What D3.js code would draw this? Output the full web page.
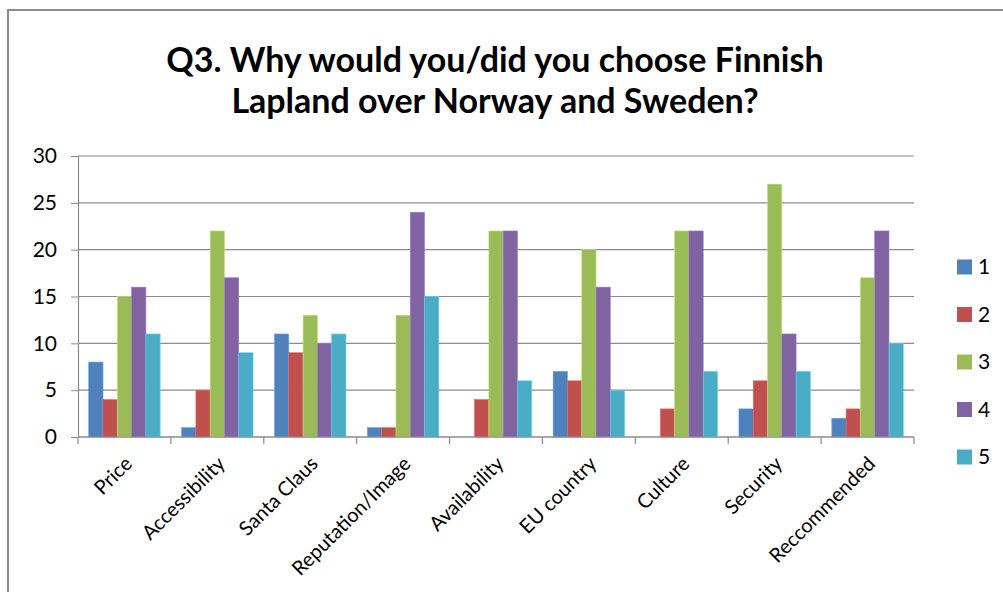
<!DOCTYPE html>
<html>
<head>
<meta charset="utf-8">
<script src="https://cdn.jsdelivr.net/npm/d3@7"></script>
<style>
  body { margin: 0; background: #fff; }
  svg { display: block; font-family: Lato, "Open Sans", sans-serif; }
</style>
</head>
<body>
<svg id="chart" width="1003" height="592"></svg>
<script>
// Data
const categories = ["Price", "Accessibility", "Santa Claus", "Reputation/Image", "Availability",
                    "EU country", "Culture", "Security", "Reccommended"];
const seriesNames = ["1", "2", "3", "4", "5"];
const s1 = [8, 1, 11, 1, 0, 7, 0, 3, 2];
const s2 = [4, 5, 9, 1, 4, 6, 3, 6, 3];
const s3 = [15, 22, 13, 13, 22, 20, 22, 27, 17];
const s4 = [16, 17, 10, 24, 22, 16, 22, 11, 22];
const s5 = [11, 9, 11, 15, 6, 5, 7, 7, 10];
const yTicks = [0, 5, 10, 15, 20, 25, 30];
const titleLines = ["Q3. Why would you/did you choose Finnish", "Lapland over Norway and Sweden?"];

const colors = ["#4F81BD", "#C0504D", "#9BBB59", "#8064A2", "#4BACC6"];
const series = [s1, s2, s3, s4, s5];

const svg = d3.select("#chart");

// outer chart frame
svg.append("rect")
  .attr("x", 8).attr("y", 10)
  .attr("width", 1010).attr("height", 600)
  .attr("fill", "none")
  .attr("stroke", "#8c8c8c")
  .attr("stroke-width", 2);

// title
svg.append("g").selectAll("text")
  .data(titleLines)
  .join("text")
  .attr("x", 495)
  .attr("y", (d, i) => 72 + i * 41)
  .attr("text-anchor", "middle")
  .attr("font-size", 34)
  .attr("font-weight", "bold")
  .attr("fill", "#000")
  .text(d => d);

const plot = { left: 78, right: 914, top: 156, bottom: 437 };

const x = d3.scaleBand()
  .domain(categories)
  .range([plot.left, plot.right]);

const inner = d3.scaleBand()
  .domain(d3.range(seriesNames.length))
  .range([0, x.bandwidth()])
  .paddingOuter(0.75); // gap width ~150%

const y = d3.scaleLinear()
  .domain([0, 30])
  .range([plot.bottom, plot.top]);

// gridlines
svg.append("g")
  .selectAll("line")
  .data(yTicks)
  .join("line")
  .attr("x1", plot.left).attr("x2", plot.right)
  .attr("y1", d => y(d)).attr("y2", d => y(d))
  .attr("stroke", "#8c8c8c")
  .attr("stroke-width", 1.2);

// y axis
const yAxis = svg.append("g")
  .attr("transform", `translate(${plot.left},0)`)
  .call(d3.axisLeft(y).tickValues(yTicks).tickSize(7).tickPadding(14));
yAxis.select(".domain").attr("stroke", "#8c8c8c").attr("stroke-width", 1.2);
yAxis.selectAll(".tick line").attr("stroke", "#8c8c8c");
yAxis.selectAll(".tick text")
  .attr("font-size", 21)
  .attr("font-family", "Lato, sans-serif")
  .attr("fill", "#000");

// bars
const groups = svg.append("g")
  .selectAll("g")
  .data(categories)
  .join("g")
  .attr("transform", d => `translate(${x(d)},0)`);

groups.selectAll("rect")
  .data((c, ci) => series.map((s, si) => ({ si, v: s[ci] })))
  .join("rect")
  .attr("x", d => inner(d.si))
  .attr("width", inner.bandwidth())
  .attr("y", d => y(d.v))
  .attr("height", d => plot.bottom - y(d.v))
  .attr("fill", d => colors[d.si])
  .attr("stroke", d => d.v > 0 ? d3.color(colors[d.si]).brighter(0.6) : "none")
  .attr("stroke-width", 0.6);

// x axis
svg.append("line")
  .attr("x1", plot.left).attr("x2", plot.right)
  .attr("y1", plot.bottom).attr("y2", plot.bottom)
  .attr("stroke", "#8c8c8c")
  .attr("stroke-width", 1.2);

const tickXs = categories.map(c => x(c)).concat([plot.right]);
svg.append("g")
  .selectAll("line")
  .data(tickXs)
  .join("line")
  .attr("x1", d => d).attr("x2", d => d)
  .attr("y1", plot.bottom).attr("y2", plot.bottom + 7)
  .attr("stroke", "#8c8c8c")
  .attr("stroke-width", 1.2);

svg.append("g")
  .selectAll("text")
  .data(categories)
  .join("text")
  .attr("transform", d => `translate(${x(d) + x.bandwidth() / 2 + 4},${plot.bottom + 23}) rotate(-45)`)
  .attr("text-anchor", "end")
  .attr("dy", "0.35em")
  .attr("font-size", 20)
  .attr("fill", "#000")
  .text(d => d);

// legend
const legend = svg.append("g")
  .selectAll("g")
  .data(seriesNames)
  .join("g")
  .attr("transform", (d, i) => `translate(957,${267 + i * 47.5})`);

legend.append("rect")
  .attr("x", 0).attr("y", -7.5)
  .attr("width", 15).attr("height", 15)
  .attr("fill", (d, i) => colors[i]);

legend.append("text")
  .attr("x", 21)
  .attr("dy", "0.35em")
  .attr("font-size", 21)
  .attr("fill", "#000")
  .text(d => d);
</script>
</body>
</html>
